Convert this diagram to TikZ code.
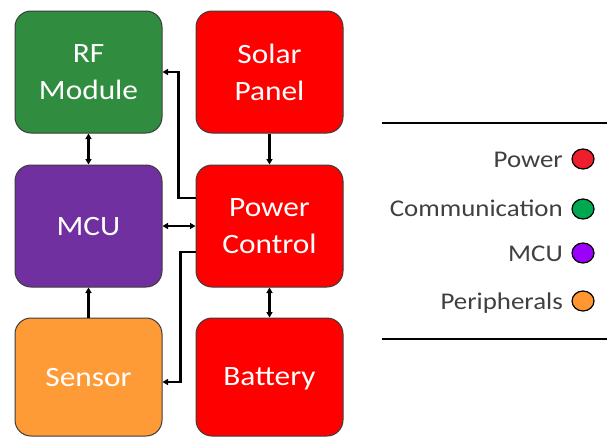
\documentclass[tikz,border=0pt]{standalone}
\usepackage{fontspec}
\usepackage{graphicx}
\setmainfont{Carlito}
\usetikzlibrary{arrows.meta,shapes.geometric}
\definecolor{rfgreen}{RGB}{48,140,62}
\definecolor{mcupurple}{RGB}{112,48,160}
\definecolor{sensorange}{RGB}{255,155,55}
\definecolor{pwrred}{RGB}{255,0,0}
\definecolor{lgred}{RGB}{238,30,45}
\definecolor{lggreen}{RGB}{0,168,80}
\definecolor{lgpurple}{RGB}{155,0,250}
\definecolor{lgorange}{RGB}{255,150,50}
\definecolor{bordergray}{RGB}{60,60,60}
\definecolor{legtext}{RGB}{64,64,64}
\newcommand\hs[1]{\scalebox{1.12}[1]{#1}}
\begin{document}
\begin{tikzpicture}[x=1pt,y=-1pt,
  blockbox/.style={draw=bordergray,line width=1pt,rounded corners=16pt,
    minimum width=147pt,minimum height=122pt,text=white,align=center,
    font=\fontsize{28}{37}\selectfont,inner sep=0pt,text depth=0pt},
  arr/.style={line width=2.2pt,-{Triangle[length=5.5pt,width=6pt]}},
  dbl/.style={line width=2.2pt,{Triangle[length=5.5pt,width=6pt]}-{Triangle[length=5.5pt,width=6pt]}},
  legtxt/.style={anchor=base east,text=legtext,font=\fontsize{24}{28}\selectfont,inner sep=0pt},
  legdot/.style={ellipse,draw=black,line width=1.2pt,minimum width=22pt,minimum height=20pt,inner sep=0pt},
  legrule/.style={line width=2.6pt,black}]
\useasboundingbox (0,0) rectangle (607,437);
% blocks
\node[blockbox,fill=rfgreen] (rf) at (88.5,72) {\hs{RF}\\\hs{Module}};
\node[blockbox,fill=pwrred] (solar) at (269.5,72) {\hs{Solar}\\\hs{Panel}};
\node[blockbox,fill=mcupurple] (mcu) at (88.5,226) {\hs{MCU}};
\node[blockbox,fill=pwrred] (pc) at (269.5,226) {\hs{Power}\\\hs{Control}};
\node[blockbox,fill=sensorange,minimum height=118pt] (sensor) at (88.5,377) {\hs{Sensor}};
\node[blockbox,fill=pwrred,minimum height=118pt] (battery) at (269.5,377) {\hs{Battery}};
% connectors
\draw[dbl] (rf.south) -- (mcu.north);
\draw[arr] (solar.south) -- (pc.north);
\draw[arr] ([yshift=28pt]pc.west) -- ++(-17,0) |- (rf.east);
\draw[dbl] (mcu.east) -- (pc.west);
\draw[arr] ([yshift=-26pt]pc.west) -- ++(-15,0) |- ([yshift=-5pt]sensor.east);
\draw[arr] (sensor.north) -- (mcu.south);
\draw[dbl] (pc.south) -- (battery.north);
% legend
\coordinate (lt1) at (382,123);
\coordinate (lt2) at (607,123);
\coordinate (lb1) at (382,339);
\coordinate (lb2) at (607,339);
\draw[legrule] (lt1) -- (lt2);
\draw[legrule] (lb1) -- (lb2);
\node[legtxt] (lpower) at (563,167) {\hs{Power}};
\node[legdot,fill=lgred] (dpower) at (583,159) {};
\node[legtxt] (lcomm) at (563,216) {\hs{Communication}};
\node[legdot,fill=lggreen] (dcomm) at (583,209) {};
\node[legtxt] (lmcu) at (563,261) {\hs{MCU}};
\node[legdot,fill=lgpurple] (dmcu) at (583,253) {};
\node[legtxt] (lper) at (563,309) {\hs{Peripherals}};
\node[legdot,fill=lgorange] (dper) at (583,301) {};
\end{tikzpicture}
\end{document}
